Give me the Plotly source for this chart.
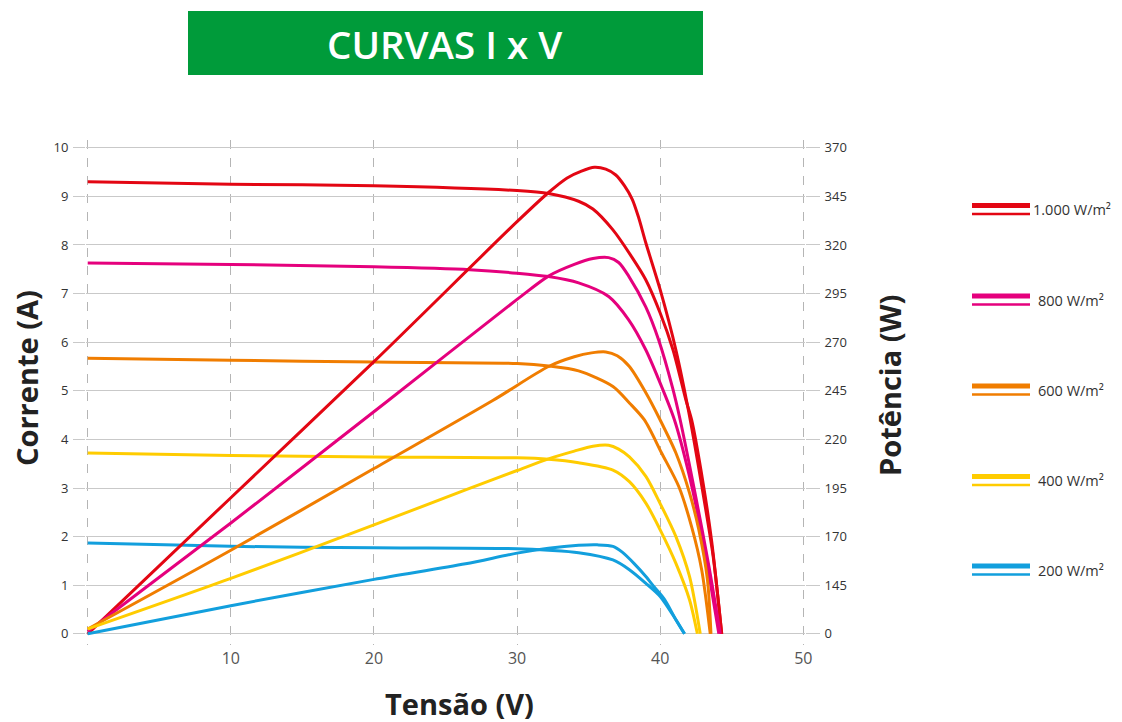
import plotly.graph_objects as go

# ---------------- data ----------------
IRRADIANCE = ["1.000 W/m²", "800 W/m²", "600 W/m²", "400 W/m²", "200 W/m²"]
COLORS = ["#E30613", "#E5007D", "#F07D00", "#FFCC00", "#129FDD"]

X_TICKS = [0, 10, 20, 30, 40, 50]
I_TICKS = [0, 1, 2, 3, 4, 5, 6, 7, 8, 9, 10]
P_TICKS = [0, 145, 170, 195, 220, 245, 270, 295, 320, 345, 370]

# Current curves (V, A)
v_i_1000 = [0, 10, 20, 30, 32.2, 34.3, 35.3, 36.7, 38.0, 39.0, 40.0, 40.9, 41.8, 42.2, 43.0, 43.6, 44.3]
i_1000 = [9.30, 9.25, 9.22, 9.12, 9.06, 8.90, 8.74, 8.31, 7.76, 7.28, 6.6, 5.84, 4.81, 4.4, 3.1, 1.9, 0]
v_i_800 = [0, 10, 20, 26.7, 30, 32.2, 34.3, 36.4, 37.8, 39.0, 39.9, 41.0, 42.0, 43.0, 44.1]
i_800 = [7.63, 7.60, 7.55, 7.49, 7.42, 7.35, 7.22, 6.94, 6.46, 5.84, 5.23, 4.4, 3.3, 1.9, 0]
v_i_600 = [0, 10, 20, 30, 32.2, 34.3, 36.7, 37.85, 38.9, 40.1, 41.3, 42.2, 42.9, 43.5]
i_600 = [5.67, 5.63, 5.59, 5.56, 5.51, 5.41, 5.09, 4.75, 4.4, 3.72, 3.03, 2.2, 1.32, 0]
v_i_400 = [0, 10, 20, 30, 32.2, 34.3, 36.7, 37.85, 39.0, 40.0, 41.1, 42.05, 42.6]
i_400 = [3.72, 3.67, 3.64, 3.62, 3.59, 3.52, 3.37, 3.13, 2.69, 2.14, 1.45, 0.70, 0]
v_i_200 = [0, 10, 20, 30, 32.2, 34.3, 36.7, 37.85, 39.0, 40.0, 41.1, 41.7]
i_200 = [1.87, 1.80, 1.77, 1.75, 1.72, 1.67, 1.52, 1.32, 1.04, 0.77, 0.29, 0]

# Power curves (V, W)
v_p_1000 = [0, 10, 20, 30, 32.2, 33.5, 34.5, 35.4, 36.2, 36.9, 37.5, 38.05, 38.5, 39.0, 40.0, 41.1, 42.05, 43.0, 43.7, 44.3]
p_1000 = [0, 190, 260, 332, 347, 354.5, 358, 360, 359, 356, 350.5, 343.5, 334, 321, 297, 266, 232, 192, 160, 0]
v_p_800 = [0, 10, 21, 30, 32.2, 34.0, 35.3, 36.4, 37.1, 37.8, 39.0, 39.9, 40.85, 41.4, 42.5, 43.4, 44.2]
p_800 = [7, 177, 240, 292, 304, 310, 313, 313.5, 311, 304, 288, 271, 247, 230, 190, 155, 0]
v_p_600 = [0, 10, 20, 28.3, 32.2, 34.0, 35.2, 36.2, 37.0, 37.85, 39.0, 40.0, 41.1, 42.05, 42.7, 43.3, 43.55]
p_600 = [14.5, 163, 205, 240, 257.5, 262.5, 264.5, 265, 263, 257.5, 244, 230, 213, 192.5, 173.5, 148, 0]
v_p_400 = [0, 10, 20, 26.4, 30, 32.2, 34.0, 35.3, 36.4, 37.1, 37.85, 39.0, 40.0, 41.1, 42.05, 42.8]
p_400 = [14.5, 148.5, 176, 194, 204, 210, 214, 216.5, 217, 215, 211, 201, 187, 170, 149.5, 0]
v_p_200 = [0, 10, 20, 26.4, 30, 32.2, 34.3, 35.6, 36.7, 37.35, 38.2, 39.0, 39.6, 40.3, 41.1, 41.7]
p_200 = [0, 84, 148, 156, 161.5, 164, 165.5, 165.75, 165, 162, 156, 149.5, 139, 103, 42, 0]

I_SERIES = [(v_i_1000, i_1000), (v_i_800, i_800), (v_i_600, i_600), (v_i_400, i_400), (v_i_200, i_200)]
P_SERIES = [(v_p_1000, p_1000), (v_p_800, p_800), (v_p_600, p_600), (v_p_400, p_400), (v_p_200, p_200)]


def w_to_axis(w):
    """The right-hand power scale of the original is broken (0, then 145..370 in 25 W steps);
    map watts onto that tick scale."""
    return w / 145.0 if w <= 145 else 1 + (w - 145) / 25.0


# ---------------- layout geometry (pixels of the 1122x722 page) ----------------
PAGE_W, PAGE_H = 1122, 722
OFF = 8                      # default body margin of the html page
PL, PR, PT, PB = 86, 805, 140, 645   # plot area in page pixels
PW, PH = PR - PL, PB - PT
FIG_W, FIG_H = PAGE_W - OFF, PAGE_H - OFF


def px(x):
    return (x - PL) / PW


def py(y):
    return (PB - y) / PH


fig = go.Figure()

for (v, i), col, name in zip(I_SERIES, COLORS, IRRADIANCE):
    fig.add_trace(go.Scatter(x=v, y=i, mode="lines", name=name,
                             line=dict(color=col, width=3, shape="spline", smoothing=0.8),
                             yaxis="y", showlegend=False))
for (v, p), col, name in zip(P_SERIES, COLORS, IRRADIANCE):
    fig.add_trace(go.Scatter(x=v, y=[w_to_axis(w) for w in p], mode="lines", name=name,
                             line=dict(color=col, width=3, shape="spline", smoothing=0.8),
                             yaxis="y2", showlegend=False))

GRID = "#c9c9c9"
YR = [-0.23, 10.16]

fig.update_layout(
    width=FIG_W, height=FIG_H,
    margin=dict(l=PL - OFF, r=FIG_W - (PR - OFF), t=PT - OFF, b=FIG_H - (PB - OFF)),
    paper_bgcolor="white", plot_bgcolor="white",
    font=dict(family="Open Sans", color="#333"),
    xaxis=dict(range=[-0.12, 50.12], tickvals=X_TICKS, ticktext=["" if t == 0 else str(t) for t in X_TICKS],
               showgrid=True, gridcolor="#b5b5b5", griddash="dash", gridwidth=1,
               zeroline=False, showline=False, ticks="",
               tickfont=dict(size=16, color="#555"), ticklabelstandoff=2),
    yaxis=dict(range=YR, tickvals=I_TICKS, showgrid=True, gridcolor=GRID, gridwidth=1,
               zeroline=False, showline=False, ticks="outside", ticklen=12, tickcolor=GRID,
               tickfont=dict(size=13, color="#333"), ticklabelstandoff=2),
    yaxis2=dict(range=YR, overlaying="y", side="right", tickvals=[w_to_axis(p) for p in P_TICKS],
                ticktext=[str(p) for p in P_TICKS], showgrid=False, zeroline=False, showline=False,
                ticks="outside", ticklen=14, tickcolor=GRID,
                tickfont=dict(size=13, color="#333"), ticklabelstandoff=2),
)

shapes = []
annotations = []

# Title banner
shapes.append(dict(type="rect", xref="paper", yref="paper", x0=px(188), x1=px(703), y0=py(75), y1=py(11),
                   fillcolor="#009B3A", line=dict(width=0)))
annotations.append(dict(xref="paper", yref="paper", x=px(444), y=py(44), text="CURVAS I x V",
                        showarrow=False, font=dict(size=38.5, color="white", family="Open Sans", weight=600),
                        xanchor="center", yanchor="middle"))

# Axis titles
annotations.append(dict(xref="paper", yref="paper", x=px(459), y=py(703), text="<b>Tensão (V)</b>",
                        showarrow=False, font=dict(size=29, color="#222"), xanchor="center", yanchor="middle"))
annotations.append(dict(xref="paper", yref="paper", x=px(26), y=py(378), text="<b>Corrente (A)</b>",
                        textangle=-90, showarrow=False, font=dict(size=29, color="#222"),
                        xanchor="center", yanchor="middle"))
annotations.append(dict(xref="paper", yref="paper", x=px(889), y=py(385), text="<b>Potência (W)</b>",
                        textangle=-90, showarrow=False, font=dict(size=29, color="#222"),
                        xanchor="center", yanchor="middle"))

# Custom legend (thick line = current, thin line = power)
leg_y = [205.5, 296, 386, 476.5, 566]
leg_tx = [1031, 1036, 1036, 1036, 1036]
for name, col, ly, tx in zip(IRRADIANCE, COLORS, leg_y, leg_tx):
    shapes.append(dict(type="line", xref="paper", yref="paper", x0=px(972), x1=px(1030),
                       y0=py(ly), y1=py(ly), line=dict(color=col, width=5)))
    shapes.append(dict(type="line", xref="paper", yref="paper", x0=px(972), x1=px(1030),
                       y0=py(ly + 8.5), y1=py(ly + 8.5), line=dict(color=col, width=2.5)))
    annotations.append(dict(xref="paper", yref="paper", x=px(tx), y=py(ly + 4), text=name,
                            showarrow=False, font=dict(size=14.5, color="#333"),
                            xanchor="left", yanchor="middle"))

fig.update_layout(shapes=shapes, annotations=annotations)

fig.write_html("out.html")
